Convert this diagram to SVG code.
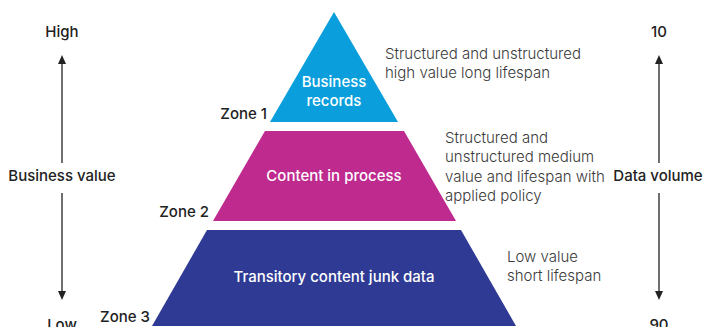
<svg xmlns="http://www.w3.org/2000/svg" width="704" height="327" viewBox="0 0 704 327">
<defs>
<style>
.lbl{font-family:Inter,"Noto Sans",sans-serif;font-size:15px;font-weight:500;fill:#222}
.in{font-family:Inter,"Noto Sans",sans-serif;font-size:15px;font-weight:500;fill:#fff;text-anchor:middle}
.desc{font-family:Inter,"Noto Sans",sans-serif;font-size:15px;font-weight:300;fill:#3a3a3a}
.ax{stroke:#222;stroke-width:1.3;fill:none}
.head{fill:#222}
</style>
</defs>
<rect width="704" height="327" fill="#fff"/>
<g id="zone1">
<polygon points="334,12 270,122 398,122" fill="#0A9FDC"/>
<text class="in" x="334" y="87">Business</text>
<text class="in" x="334" y="106">records</text>
<text class="lbl" x="267" y="119" text-anchor="end">Zone 1</text>
<text class="desc" x="385" y="59">Structured and unstructured</text>
<text class="desc" x="385" y="78">high value long lifespan</text>
</g>
<g id="zone2">
<polygon points="265,131 404,131 456,221 213,221" fill="#BE2A8E"/>
<text class="in" x="334" y="181">Content in process</text>
<text class="lbl" x="209" y="217" text-anchor="end">Zone 2</text>
<text class="desc" x="445" y="143">Structured and</text>
<text class="desc" x="445" y="162">unstructured medium</text>
<text class="desc" x="445" y="182">value and lifespan with</text>
<text class="desc" x="445" y="201">applied policy</text>
</g>
<g id="zone3">
<polygon points="207,230 461,230 516,326 152,326" fill="#2E3A94"/>
<text class="in" x="334" y="282">Transitory content junk data</text>
<text class="lbl" x="150" y="322" text-anchor="end">Zone 3</text>
<text class="desc" x="507" y="262">Low value</text>
<text class="desc" x="507" y="281">short lifespan</text>
</g>
<g id="business-value-axis">
<text class="lbl" x="62" y="37" text-anchor="middle">High</text>
<text class="lbl" x="62" y="181" text-anchor="middle">Business value</text>
<text class="lbl" x="62" y="330" text-anchor="middle">Low</text>
</g>
<g id="data-volume-axis">
<text class="lbl" x="659" y="37" text-anchor="middle">10</text>
<text class="lbl" x="658" y="181" text-anchor="middle">Data volume</text>
<text class="lbl" x="659" y="330" text-anchor="middle">90</text>
</g>
<g id="connectors">
<line class="ax" x1="62" y1="163" x2="62" y2="62"/>
<polygon class="head" points="62,55 58,64 66,64"/>
<line class="ax" x1="62" y1="193" x2="62" y2="293"/>
<polygon class="head" points="62,300 58,291 66,291"/>
<line class="ax" x1="659" y1="163" x2="659" y2="62"/>
<polygon class="head" points="659,55 655,64 663,64"/>
<line class="ax" x1="659" y1="193" x2="659" y2="293"/>
<polygon class="head" points="659,300 655,291 663,291"/>
</g>
</svg>
